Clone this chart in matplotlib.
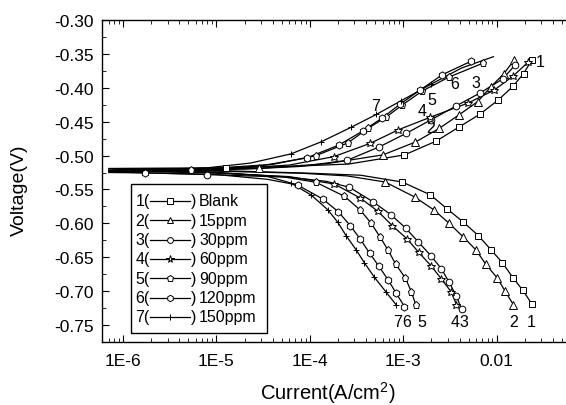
import numpy as np
import matplotlib
matplotlib.use("Agg")
import matplotlib.pyplot as plt
from matplotlib.lines import Line2D
from matplotlib.patches import Rectangle
from matplotlib.ticker import MultipleLocator, LogLocator, NullFormatter

plt.rcParams['font.family'] = ['Liberation Sans', 'DejaVu Sans']
plt.rcParams['axes.unicode_minus'] = False
plt.rcParams['mathtext.fontset'] = 'custom'
plt.rcParams['mathtext.rm'] = 'Liberation Sans'
plt.rcParams['mathtext.default'] = 'regular'

# each curve runs cathodic end -> Ecorr -> anodic end; M = 1 where a marker is drawn
I1 = [2.38e-2, 1.91e-2, 1.49e-2, 1.15e-2, 8.69e-3, 6.36e-3, 4.38e-3, 2.97e-3, 1.95e-3, 9.75e-4,
      3.5e-4, 1e-4, 1e-5, 7e-7, 1.27e-5, 6e-5, 2.6e-4,
      1.03e-3, 2.26e-3, 3.94e-3, 6.6e-3, 1.04e-2, 1.49e-2, 1.94e-2, 2.38e-2]
E1 = [-0.719, -0.699, -0.680, -0.658, -0.639, -0.618, -0.598, -0.579, -0.558, -0.539,
      -0.529, -0.526, -0.522, -0.519, -0.518, -0.516, -0.5125,
      -0.499, -0.4785, -0.458, -0.439, -0.418, -0.398, -0.379, -0.359]
M1 = [1]*10 + [0, 0, 0, 0, 1, 0, 0] + [1]*8

I2 = [1.51e-2, 1.23e-2, 1.02e-2, 7.62e-3, 5.98e-3, 4.38e-3, 3.10e-3, 2.12e-3, 1.32e-3, 6.4e-4,
      2.5e-4, 8e-5, 1e-5, 7e-7, 2.83e-5, 1.5e-4,
      6.05e-4, 1.35e-3, 2.42e-3, 3.94e-3, 6.25e-3, 8.6e-3, 1.197e-2, 1.535e-2]
E2 = [-0.720, -0.700, -0.681, -0.660, -0.639, -0.620, -0.600, -0.580, -0.561, -0.539,
      -0.530, -0.526, -0.523, -0.520, -0.519, -0.512,
      -0.499, -0.480, -0.460, -0.440, -0.4205, -0.399, -0.379, -0.359]
M2 = [1]*10 + [0, 0, 0, 0, 1, 0] + [1]*8

I3 = [4.21e-3, 3.71e-3, 3.10e-3, 2.56e-3, 1.97e-3, 1.44e-3, 1.06e-3, 7.43e-4, 4.72e-4, 2.65e-4,
      1.5e-4, 6e-5, 7.98e-6, 7e-7, 2e-5, 8e-5,
      2.5e-4, 5.56e-4, 1.08e-3, 2.0e-3, 3.65e-3, 6.57e-3, 1.16e-2, 1.56e-2]
E3 = [-0.727, -0.7075, -0.687, -0.667, -0.6476, -0.627, -0.607, -0.5876, -0.568, -0.5468,
      -0.538, -0.532, -0.528, -0.524, -0.520, -0.516,
      -0.507, -0.487, -0.467, -0.447, -0.427, -0.408, -0.387, -0.367]
M3 = [1]*10 + [0, 0, 1, 0, 0, 0] + [1]*8

I4 = [3.71e-3, 3.28e-3, 2.56e-3, 2.0e-3, 1.46e-3, 1.10e-3, 7.62e-4, 5.35e-4, 3.45e-4, 1.82e-4,
      6e-5, 1e-5, 7e-7, 1.5e-5, 6e-5,
      1.8e-4, 4.43e-4, 8.87e-4, 1.94e-3, 4.96e-3, 9.44e-3, 1.513e-2, 2.19e-2]
E4 = [-0.720, -0.7016, -0.682, -0.6633, -0.6426, -0.623, -0.6034, -0.5822, -0.5625, -0.5419,
      -0.531, -0.526, -0.522, -0.519, -0.514,
      -0.5016, -0.4819, -0.4619, -0.4435, -0.4224, -0.4032, -0.3822, -0.3615]
M4 = [1]*10 + [0, 0, 0, 0, 0] + [1]*8

I5 = [1.36e-3, 1.22e-3, 1.05e-3, 8.27e-4, 6.85e-4, 5.66e-4, 4.53e-4, 3.45e-4, 2.34e-4, 1.16e-4,
      5e-5, 1e-5, 7e-7, 5.33e-6, 4e-5,
      1.16e-4, 2.54e-4, 4.21e-4, 6.56e-4, 9.75e-4, 1.60e-3, 3.05e-3, 7.06e-3]
E5 = [-0.7203, -0.7007, -0.6805, -0.6599, -0.6392, -0.6205, -0.5998, -0.5802, -0.560, -0.5394,
      -0.531, -0.525, -0.522, -0.5208, -0.513,
      -0.5001, -0.4814, -0.4597, -0.4431, -0.4254, -0.4047, -0.3845, -0.3639]
M5 = [1]*10 + [0, 0, 0, 1, 0] + [1]*8

I6 = [1.03e-3, 8.41e-4, 6.85e-4, 5.48e-4, 4.35e-4, 3.45e-4, 2.71e-4, 2.01e-4, 1.37e-4, 7.38e-5,
      3.5e-5, 1e-5, 1.7e-6, 7e-7, 8e-6, 3e-5,
      9.22e-5, 2.05e-4, 3.72e-4, 5.95e-4, 9.29e-4, 1.52e-3, 2.62e-3, 5.30e-3]
E6 = [-0.7229, -0.7031, -0.683, -0.6633, -0.6437, -0.623, -0.6034, -0.5827, -0.564, -0.5434,
      -0.535, -0.528, -0.5255, -0.525, -0.521, -0.515,
      -0.5035, -0.4844, -0.4633, -0.4445, -0.4239, -0.4032, -0.3807, -0.3609]
M6 = [1]*10 + [0, 0, 1, 0, 0, 0] + [1]*8

I7 = [8.41e-4, 6.56e-4, 4.91e-4, 3.84e-4, 3.12e-4, 2.44e-4, 1.99e-4, 1.55e-4, 1.03e-4, 6.25e-5,
      3.37e-5, 8e-6, 7e-7, 8e-6, 2.32e-5,
      6.25e-5, 1.31e-4, 2.76e-4, 5.13e-4, 9.51e-4, 2.0e-3, 4.21e-3, 9.23e-3]
E7 = [-0.7203, -0.7016, -0.6795, -0.6584, -0.6388, -0.6181, -0.5984, -0.5798, -0.5581, -0.5404,
      -0.530, -0.524, -0.523, -0.518, -0.511,
      -0.4976, -0.4799, -0.4583, -0.4394, -0.419, -0.3944, -0.3708, -0.3541]
M7 = [1]*10 + [0, 0, 0, 0, 0] + [1, 1, 1, 1, 1, 1, 0, 0]

legend_labels = ['Blank', '15ppm', '30ppm', '60ppm', '90ppm', '120ppm', '150ppm']

# curve number annotations
top_txt = ['1', '6', '3', '7', '5', '4', '2']
top_I = [2.92e-2, 3.51e-3, 5.94e-3, 5.04e-4, 2.0e-3, 1.59e-3, 1.96e-3]
top_E = [-0.3609, -0.3944, -0.3919, -0.4264, -0.418, -0.4338, -0.4583]
bot_txt = ['7', '6', '5', '4', '3', '2', '1']
bot_I = [8.77e-4, 1.10e-3, 1.56e-3, 3.56e-3, 4.50e-3, 1.51e-2, 2.34e-2]
bot_E = [-0.7447] * 7

W, H = 566, 406
fig = plt.figure(figsize=(W / 100, H / 100), dpi=100)
ax = fig.add_axes([102 / W, 1 - 343 / H, (W - 102) / W, (343 - 21) / H])

curves = [(I1, E1, M1), (I2, E2, M2), (I3, E3, M3), (I4, E4, M4),
          (I5, E5, M5), (I6, E6, M6), (I7, E7, M7)]
markers = ['s', '^', 'o', '*', 'p', 'h', '+']
msizes = [4.4, 5.2, 4.8, 6.2, 5.2, 5.2, 5.0]

for (I, E, M), mk, ms in zip(curves, markers, msizes):
    I = np.array(I)
    E = np.array(E)
    sel = np.array(M, dtype=bool)
    ax.plot(I, E, color='black', lw=0.9, zorder=2)
    ax.plot(I[sel], E[sel], ls='none', marker=mk, ms=ms, mfc='white',
            mec='black', mew=0.7, zorder=3)

for t, x, y in zip(top_txt, top_I, top_E):
    ax.text(x, y, t, fontsize=11.5, ha='center', va='center')
for t, x, y in zip(bot_txt, bot_I, bot_E):
    ax.text(x, y, t, fontsize=11.5, ha='center', va='center')

ax.set_xscale('log')
ax.set_xlim(10 ** -6.2258, 10 ** -1.258)
ax.set_ylim(-0.775, -0.30)
ax.set_xticks([1e-6, 1e-5, 1e-4, 1e-3, 1e-2])
ax.set_xticklabels(['1E-6', '1E-5', '1E-4', '1E-3', '0.01'])
ax.xaxis.set_minor_locator(LogLocator(base=10, subs=np.arange(2, 10)))
ax.xaxis.set_minor_formatter(NullFormatter())
ax.set_yticks(np.arange(-0.75, -0.29, 0.05))
ax.set_yticklabels(['%.2f' % v for v in np.arange(-0.75, -0.29, 0.05)])
ax.yaxis.set_minor_locator(MultipleLocator(0.025))
ax.tick_params(which='both', direction='in', top=True, right=False, labelsize=12.5)
ax.tick_params(which='major', length=5, width=0.8)
ax.tick_params(which='minor', length=3, width=0.6)
ax.tick_params(axis='x', pad=8)
ax.tick_params(axis='y', pad=6)
ax.spines['right'].set_visible(False)
for s in ['left', 'bottom', 'top']:
    ax.spines[s].set_linewidth(1.0)

fig.text(328 / W, 1 - 400 / H, 'Current(A/cm$^2$)', fontsize=14.5, ha='center', va='baseline')
fig.text(19 / W, 1 - 190 / H, 'Voltage(V)', fontsize=14, rotation=90, ha='center', va='center')

# hand-built legend, "n(--o--) label"
def fp(x, y):
    return x / W, 1 - y / H

box = Rectangle(fp(131, 334), (267 - 131) / W, (334 - 185) / H, transform=fig.transFigure,
                fill=True, facecolor='white', edgecolor='black', lw=1.0, zorder=5)
fig.add_artist(box)
for k, (lab, mk, ms) in enumerate(zip(legend_labels, markers, msizes)):
    yy = 202 + k * 19.3
    fig.text(*fp(135.5, yy), '%d(' % (k + 1), fontsize=11.5, ha='left', va='center', zorder=6)
    fig.add_artist(Line2D([150 / W, 190 / W], [1 - yy / H, 1 - yy / H], transform=fig.transFigure,
                          color='black', lw=0.9, zorder=6))
    fig.add_artist(Line2D([169.5 / W], [1 - yy / H], transform=fig.transFigure, ls='none',
                          marker=mk, ms=ms - 0.6, mfc='white', mec='black', mew=0.7, zorder=7))
    fig.text(*fp(190.5, yy), ')', fontsize=11.5, ha='left', va='center', zorder=6)
    fig.text(*fp(199, yy), lab, fontsize=11.5, ha='left', va='center', zorder=6)

fig.savefig('out.png', dpi=100)
